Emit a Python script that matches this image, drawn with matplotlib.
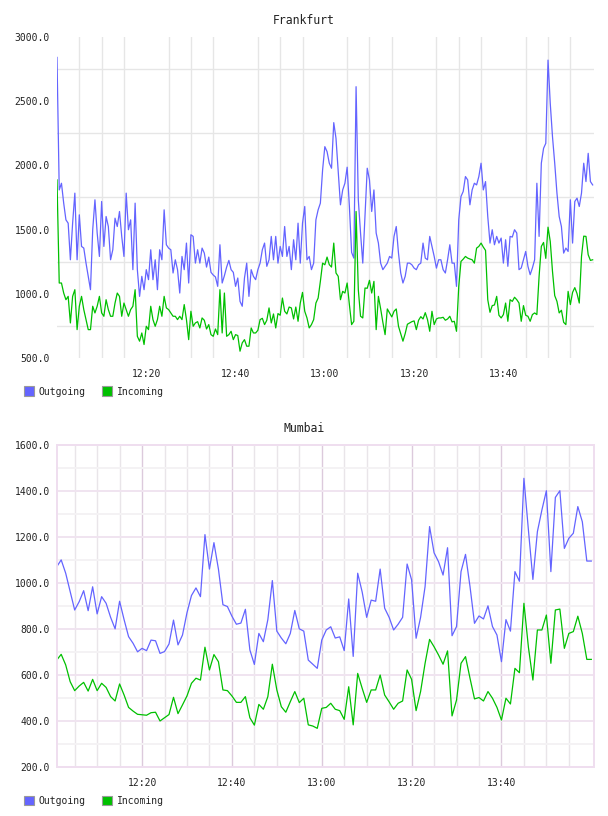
import numpy as np
import matplotlib
matplotlib.use("Agg")
import matplotlib.pyplot as plt
from matplotlib.patches import Patch

plt.rcParams['font.family'] = ['DejaVu Sans Mono']

# ---------------- data ----------------
fra_outgoing = [
    2841,1809,1861,1706,1576,1550,1265,1550,1784,1265,1615,1369,1356,1239,1136,1032,1499,1732,1473,1291,
    1719,1369,1602,1524,1265,1343,1589,1524,1641,1447,1291,1784,1499,1576,1188,1706,1188,980,1136,1032,
    1188,1110,1343,1110,1265,1032,1343,1265,1654,1382,1356,1343,1162,1265,1188,1006,1291,1188,1395,1084,1460,
    1447,1239,1343,1239,1356,1317,1208,1286,1167,1146,1131,1058,1382,1084,1141,1208,1260,1188,1167,1058,
    1123,941,903,1123,1239,980,1188,1136,1110,1188,1239,1343,1395,1214,1265,1447,1265,1447,1239,1369,
    1291,1524,1291,1369,1188,1421,1265,1550,1239,1550,1680,1265,1291,1188,1239,1576,1654,1706,1965,2146,2107,
    2017,1978,2333,2211,1952,1693,1809,1861,1986,1680,1322,1278,2613,1732,1473,1239,1602,1978,1887,1641,
    1809,1473,1395,1239,1188,1214,1239,1291,1278,1447,1524,1317,1162,1084,1136,1239,1239,1226,1200,1188,
    1226,1239,1395,1278,1265,1447,1369,1291,1200,1265,1265,1188,1162,1265,1382,1239,1239,1058,1576,1758,1797,
    1913,1887,1693,1809,1861,1848,1913,2017,1809,1874,1602,1395,1499,1382,1447,1395,1434,1239,1421,1214,
    1447,1442,1499,1473,1188,1201,1265,1330,1214,1149,1201,1265,1861,1447,2017,2133,2172,2820,2483,2224,
    2017,1784,1602,1524,1317,1356,1330,1732,1395,1719,1745,1680,1784,2017,1874,2094,1874,1848,
]
fra_incoming = [
    1887,1084,1084,1006,954,980,773,980,1032,721,903,980,877,799,721,721,903,851,903,980,
    851,825,954,877,825,825,928,1006,980,825,928,877,825,877,903,1032,669,631,695,605,
    747,721,903,799,747,799,903,825,980,890,877,851,825,825,799,825,799,916,799,643,864,
    747,773,783,734,812,794,726,760,682,669,726,682,1032,695,1006,669,682,708,643,682,
    675,553,618,643,592,592,734,695,695,716,799,809,760,794,890,773,843,734,846,833,
    967,864,843,897,890,804,897,786,928,1011,864,812,734,760,799,928,967,1097,1239,1226,1286,
    1227,1208,1395,1162,1136,954,1019,1006,1084,916,760,786,1641,1032,825,812,1045,1043,1105,1006,
    1097,721,980,884,778,682,882,851,820,864,882,747,690,631,690,763,773,783,789,721,
    794,822,804,853,799,708,864,760,804,812,812,817,794,804,825,781,786,708,1058,1252,1270,
    1291,1278,1271,1265,1239,1356,1369,1395,1364,1338,954,856,908,913,980,833,812,838,928,786,
    954,941,973,954,928,786,908,833,825,786,838,851,838,1136,1369,1400,1276,1519,1408,1175,
    986,941,851,872,778,760,1019,916,1011,1048,1001,928,1291,1449,1447,1304,1260,1265,
]
fra_step_min = 0.5          # sampling interval (minutes after 12:00)

mum_outgoing = [
    1070,1100,1042,962,882,918,966,879,983,865,
    940,911,850,800,920,840,766,737,700,715,
    705,751,748,693,701,734,838,730,773,870,
    945,978,940,1210,1060,1175,1060,905,897,855,
    820,825,885,708,645,780,744,840,1010,790,
    760,735,780,880,800,790,664,646,628,751,
    795,809,760,765,705,930,680,1042,960,850,
    925,920,1060,890,850,795,820,850,1082,1013,
    759,850,984,1245,1131,1092,1034,1153,770,810,
    1049,1124,984,824,856,843,900,810,773,657,
    840,790,1049,1007,1455,1230,1015,1223,1317,1401,
    1049,1372,1401,1150,1194,1216,1332,1266,1095,1095,
]
mum_incoming = [
    664,689,643,570,531,551,567,529,580,531,
    563,545,505,486,560,512,458,442,428,426,
    424,435,437,399,413,427,502,431,469,508,
    563,585,577,720,621,688,657,534,531,508,
    480,480,505,413,381,471,450,505,646,534,
    461,437,483,527,479,498,382,377,367,454,
    458,476,450,444,406,548,382,606,541,480,
    534,534,599,512,482,450,476,486,621,580,
    444,527,650,754,722,686,646,704,421,490,
    650,679,585,495,501,486,527,498,458,403,
    498,473,628,609,911,720,577,795,795,860,
    650,882,886,715,780,788,855,780,667,667,
]
mum_start_min = 1           # first sample at 12:01, one per minute

time_ticks = [20, 40, 60, 80, 100]
time_labels = ["12:20", "12:40", "13:00", "13:20", "13:40"]
series_names = ["Outgoing", "Incoming"]
colors = ["#6464ff", "#00c000"]

# ---------------- figure ----------------
W, H = 608, 816
fig = plt.figure(figsize=(W / 100, H / 100), dpi=100)

def px_axes(l, t, r, b):
    return fig.add_axes([l / W, 1 - b / H, (r - l) / W, (b - t) / H])

# ---- Frankfurt ----
ax1 = px_axes(57, 37, 594, 358)
x1 = np.arange(len(fra_outgoing)) * fra_step_min
ax1.plot(x1, fra_outgoing, color=colors[0], lw=0.9)
ax1.plot(x1, fra_incoming, color=colors[1], lw=0.9)
ax1.set_xlim(0, 120.3)
ax1.set_ylim(500, 3000)
ax1.set_yticks(np.arange(500, 3001, 500))
ax1.set_yticklabels([f"{v:.1f}" for v in np.arange(500, 3001, 500)])
ax1.set_yticks(np.arange(750, 3000, 500), minor=True)
ax1.set_xticks(time_ticks)
ax1.set_xticklabels(time_labels)
ax1.set_xticks(np.arange(5, 120, 5), minor=True)
ax1.grid(False, which='major')
ax1.grid(True, which='minor', color='#e6e6e6', lw=1.0)
for s in ax1.spines.values():
    s.set_visible(False)
ax1.tick_params(which='both', length=0)
ax1.tick_params(axis='y', pad=5, labelsize=7, labelcolor='#222222')
ax1.tick_params(axis='x', pad=8, labelsize=7, labelcolor='#222222')
ax1.set_axisbelow(True)
fig.text(0.5, 1 - 20 / H, "Frankfurt", ha='center', va='center', fontsize=8.3, color='#222222')

# ---- Mumbai ----
ax2 = px_axes(56.7, 445, 594, 766.7)
x2 = np.arange(len(mum_outgoing)) + mum_start_min
ax2.plot(x2, mum_outgoing, color=colors[0], lw=0.9)
ax2.plot(x2, mum_incoming, color=colors[1], lw=0.9)
ax2.set_xlim(1, 120.6)
ax2.set_ylim(200, 1600)
ax2.set_yticks(np.arange(200, 1601, 200))
ax2.set_yticklabels([f"{v:.1f}" for v in np.arange(200, 1601, 200)])
ax2.set_yticks(np.arange(300, 1600, 200), minor=True)
ax2.set_xticks(time_ticks)
ax2.set_xticklabels(time_labels)
ax2.set_xticks([m for m in range(5, 120, 5) if m % 20 != 0], minor=True)
ax2.grid(True, which='major', axis='y', color='#f0e4f0', lw=1.4)
ax2.grid(True, which='minor', axis='y', color='#f4f2f4', lw=1.4)
ax2.grid(True, which='major', axis='x', color='#dccadc', lw=1.0)
ax2.grid(True, which='minor', axis='x', color='#e9e5e9', lw=1.0)
for s in ax2.spines.values():
    s.set_color('#efdeef')
    s.set_linewidth(1.4)
ax2.tick_params(which='both', length=0)
ax2.tick_params(axis='y', pad=5, labelsize=7, labelcolor='#222222')
ax2.tick_params(axis='x', pad=8, labelsize=7, labelcolor='#222222')
ax2.set_axisbelow(True)
fig.text(0.5, 1 - 429 / H, "Mumbai", ha='center', va='center', fontsize=8.3, color='#222222')

# ---- legends ----
handles = [Patch(facecolor=c, edgecolor='#9a9a9a', lw=0.8) for c in colors]
for yc in (391.5, 800.7):
    fig.legend(handles, series_names, loc='center left',
               bbox_to_anchor=(24 / W, 1 - yc / H), ncol=2, frameon=False,
               fontsize=7, handlelength=1.03, handleheight=1.13,
               handletextpad=0.5, columnspacing=1.67, borderpad=0,
               borderaxespad=0, labelcolor='#222222')

fig.savefig("out.png", dpi=100)
